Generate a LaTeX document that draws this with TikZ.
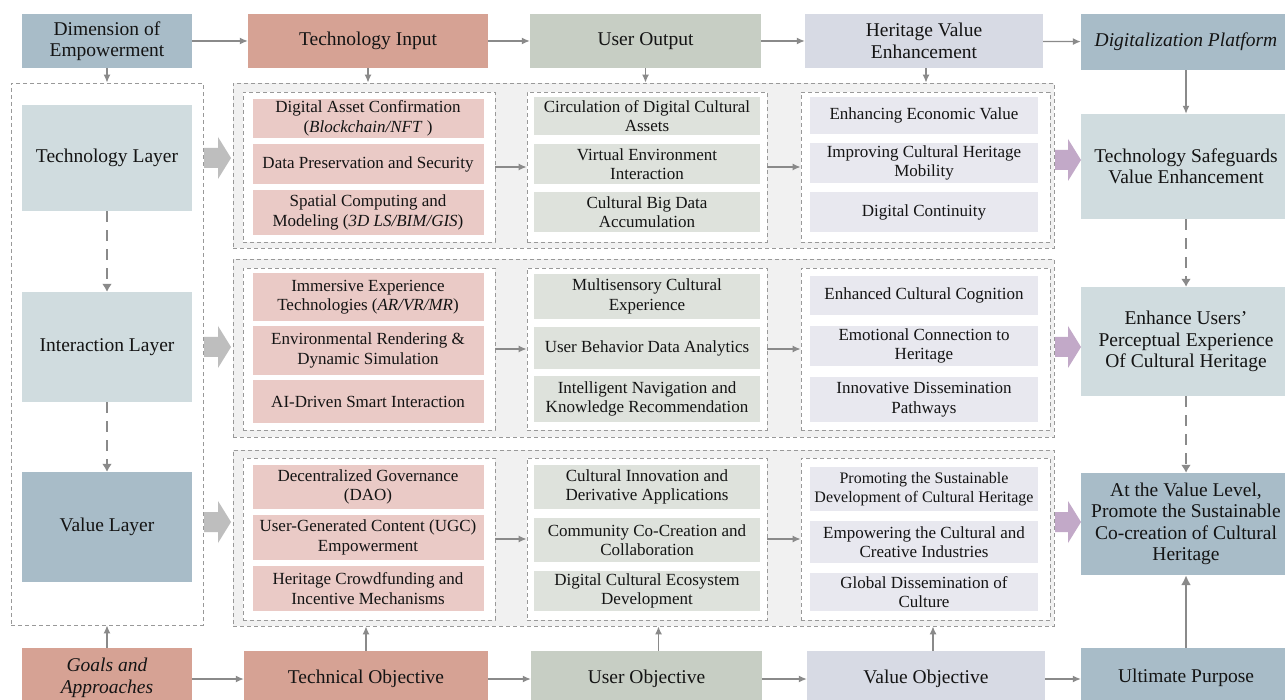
\documentclass[tikz,border=0pt]{standalone}
\usepackage{fontspec}
\setmainfont{Liberation Serif}
\usetikzlibrary{arrows.meta}

\definecolor{cSteel}{HTML}{A8BCC8}
\definecolor{cSalmon}{HTML}{D6A294}
\definecolor{cSage}{HTML}{C7CEC4}
\definecolor{cLilac}{HTML}{D7DAE4}
\definecolor{cMist}{HTML}{D0DCDF}
\definecolor{cPink}{HTML}{EACAC6}
\definecolor{cPale}{HTML}{DEE2DC}
\definecolor{cLav}{HTML}{E8E8EF}
\definecolor{cBand}{HTML}{F1F1F1}
\definecolor{cLine}{HTML}{8A8A8A}
\definecolor{cBlock}{HTML}{BEBEBE}
\definecolor{cMauve}{HTML}{C2A9C8}

\tikzset{
  box/.style={inner sep=1pt, align=center, text=black!92},
  head/.style={box, font=\fontsize{19.5}{21.5}\selectfont},
  item/.style={box, font=\fontsize{17}{19.5}\selectfont},
  pinkbox/.style={item, fill=cPink, minimum width=231pt},
  palebox/.style={item, fill=cPale, minimum width=226pt},
  lavbox/.style={item, fill=cLav, minimum width=228pt},
  frame/.style={draw=black!40, dash pattern=on 4pt off 3pt, line width=0.8pt},
  link/.style={draw=cLine, line width=1.3pt, -{Latex[length=8pt,width=7pt]}},
  dashlink/.style={draw=cLine, line width=2.6pt, dash pattern=on 11pt off 8pt,
    -{Latex[length=8pt,width=10pt]}},
}

\begin{document}
\begin{tikzpicture}[x=1pt, y=-1pt]
\path [use as bounding box, clip] (0,0) rectangle (1285,700);
\fill [white] (0,0) rectangle (1285,700);

% dashed containers
\node [frame, fill=white, minimum width=192pt, minimum height=542pt] (layers) at (107,354) {};
\node [frame, fill=cBand, minimum width=821pt, minimum height=165pt] (row1) at (643.5,165.5) {};
\node [frame, fill=cBand, minimum width=821pt, minimum height=178pt] (row2) at (643.5,348) {};
\node [frame, fill=cBand, minimum width=821pt, minimum height=176pt] (row3) at (643.5,538) {};
\foreach \r/\cy/\h in {1/167/150, 2/349/162, 3/539/162}
  \foreach \c/\cx/\w in {1/369/252, 2/647/240, 3/925.5/249}
    \node [frame, fill=white, minimum width=\w pt, minimum height=\h pt] (r\r c\c) at (\cx,\cy) {};

% header row
\node [head, fill=cSteel, minimum width=170pt, minimum height=54pt] (dim) at (107,41) {Dimension of\\Empowerment};
\node [head, fill=cSalmon, minimum width=240pt, minimum height=54pt] (tin) at (368,41) {Technology Input};
\node [head, fill=cSage, minimum width=231pt, minimum height=54pt] (uout) at (645.5,41) {User Output};
\node [head, fill=cLilac, minimum width=238pt, minimum height=54pt] (hve) at (924,41) {Heritage Value\\Enhancement};
\node [head, fill=cSteel, minimum width=210pt, minimum height=56pt] (dig) at (1186,42) {\textit{Digitalization Platform}};

% layers
\node [head, fill=cMist, minimum width=170pt, minimum height=106pt] (tlay) at (107,158) {Technology Layer};
\node [head, fill=cMist, minimum width=170pt, minimum height=110pt] (ilay) at (107,347) {Interaction Layer};
\node [head, fill=cSteel, minimum width=170pt, minimum height=110pt] (vlay) at (107,527) {Value Layer};

% technology row
\node [pinkbox, minimum height=39pt] (asset) at (368,118.5) {Digital Asset Confirmation\\(\textit{Blockchain/NFT} )};
\node [pinkbox, minimum height=40pt] (secure) at (368,164) {Data Preservation and Security};
\node [pinkbox, minimum height=45pt] (spatial) at (368,212.5) {Spatial Computing and\\Modeling (\textit{3D LS/BIM/GIS})};
\node [palebox, minimum height=38pt] (circ) at (647,116) {Circulation of Digital Cultural\\Assets};
\node [palebox, minimum height=40pt] (virt) at (647,164) {Virtual Environment\\Interaction};
\node [palebox, minimum height=40pt] (bigdata) at (647,212) {Cultural Big Data\\Accumulation};
\node [lavbox, minimum height=37pt] (econ) at (924,115.5) {Enhancing Economic Value};
\node [lavbox, minimum height=40pt] (mobil) at (924,163) {Improving Cultural Heritage\\Mobility};
\node [lavbox, minimum height=40pt] (contin) at (924,212) {Digital Continuity};

% interaction row
\node [pinkbox, minimum height=48pt] (immers) at (368,297) {Immersive Experience\\Technologies (\textit{AR/VR/MR})};
\node [pinkbox, minimum height=49pt] (render) at (368,350.5) {Environmental Rendering \&\\Dynamic Simulation};
\node [pinkbox, minimum height=43pt] (aidrive) at (368,401.5) {AI-Driven Smart Interaction};
\node [palebox, minimum height=45pt] (multi) at (647,296.5) {Multisensory Cultural\\Experience};
\node [palebox, minimum height=42pt] (behav) at (647,348) {User Behavior Data Analytics};
\node [palebox, minimum height=46pt] (navig) at (647,399) {Intelligent Navigation and\\Knowledge Recommendation};
\node [lavbox, minimum height=39pt] (cogn) at (924,295.5) {Enhanced Cultural Cognition};
\node [lavbox, minimum height=40pt] (emot) at (924,346) {Emotional Connection to\\Heritage};
\node [lavbox, minimum height=45pt] (dissem) at (924,399.5) {Innovative Dissemination\\Pathways};

% value row
\node [pinkbox, minimum height=44pt] (dao) at (368,487) {Decentralized Governance\\(DAO)};
\node [pinkbox, minimum height=45pt] (ugc) at (368,537.5) {User-Generated Content (UGC)\\Empowerment};
\node [pinkbox, minimum height=45pt] (crowd) at (368,588.5) {Heritage Crowdfunding and\\Incentive Mechanisms};
\node [palebox, minimum height=44pt] (innov) at (647,487) {Cultural Innovation and\\Derivative Applications};
\node [palebox, minimum height=44pt] (cocreate) at (647,540) {Community Co-Creation and\\Collaboration};
\node [palebox, minimum height=40pt] (ecosys) at (647,591) {Digital Cultural Ecosystem\\Development};
\node [lavbox, minimum height=44pt, font=\fontsize{16}{19}\selectfont] (sustain) at (924,489) {Promoting the Sustainable\\Development of Cultural Heritage};
\node [lavbox, minimum height=42pt] (creative) at (924,542) {Empowering the Cultural and\\Creative Industries};
\node [lavbox, minimum height=38pt] (global) at (924,592) {Global Dissemination of\\Culture};

% right column
\node [head, fill=cMist, minimum width=210pt, minimum height=105pt] (tsafe) at (1186,166.5) {Technology Safeguards\\Value Enhancement};
\node [head, fill=cMist, minimum width=210pt, minimum height=109pt] (euser) at (1186,341.5) {Enhance Users'\\Perceptual Experience\\Of Cultural Heritage};
\node [head, fill=cSteel, minimum width=210pt, minimum height=102pt] (vlevel) at (1186,524) {At the Value Level,\\Promote the Sustainable\\Co-creation of Cultural\\Heritage};

% bottom row
\node [head, fill=cSalmon, minimum width=170pt, minimum height=60pt] (goals) at (107,678) {\textit{Goals and}\\\textit{Approaches}};
\node [head, fill=cSalmon, minimum width=244pt, minimum height=56pt] (tobj) at (366,679) {Technical Objective};
\node [head, fill=cSage, minimum width=231pt, minimum height=56pt] (uobj) at (646.5,679) {User Objective};
\node [head, fill=cLilac, minimum width=238pt, minimum height=56pt] (vobj) at (926,679) {Value Objective};
\node [head, fill=cSteel, minimum width=210pt, minimum height=60pt] (ult) at (1186,678) {Ultimate Purpose};

% block arrows into and out of the rows
\foreach \yc in {158,347,522}
  \fill [cBlock] (204,\yc-10) -- (218,\yc-10) -- (218,\yc-21) -- (231,\yc)
    -- (218,\yc+21) -- (218,\yc+10) -- (204,\yc+10) -- cycle;
\foreach \yc in {160,347,522}
  \fill [cMauve] (1055,\yc-10) -- (1068,\yc-10) -- (1068,\yc-21) -- (1081,\yc)
    -- (1068,\yc+21) -- (1068,\yc+10) -- (1055,\yc+10) -- cycle;

% connectors
\draw [link] (dim) -- (tin);
\draw [link] (tin) -- (uout);
\draw [link] (uout) -- (hve);
\draw [link] (hve) -- (dig);
\draw [link] (dim.south) -- (layers.north);
\draw [link] (tin.south) -- (tin.south |- row1.north);
\draw [link] (uout.south) -- (uout.south |- row1.north);
\draw [link] ([xshift=2pt]hve.south) -- ([xshift=2pt]hve.south |- row1.north);
\draw [link] (dig.south) -- (tsafe.north);
\foreach \r in {1,2,3} {
  \draw [link] (r\r c1) -- (r\r c2);
  \draw [link] (r\r c2) -- (r\r c3);
}
\draw [dashlink] (tlay.south) -- (ilay.north);
\draw [dashlink] (ilay.south) -- (vlay.north);
\draw [dashlink] (tsafe.south) -- (euser.north);
\draw [dashlink] (euser.south) -- (vlevel.north);
\draw [link] (goals.east |- tobj) -- (tobj);
\draw [link] (tobj) -- (uobj);
\draw [link] (uobj) -- (vobj);
\draw [link] (vobj) -- (ult.west |- vobj);
\draw [link] (goals.north) -- (layers.south);
\draw [link] (tobj.north) -- (tobj.north |- row3.south);
\draw [link] ([xshift=12pt]uobj.north) -- ([xshift=12pt]uobj.north |- row3.south);
\draw [link] ([xshift=7pt]vobj.north) -- ([xshift=7pt]vobj.north |- row3.south);
\draw [link, line width=2.5pt, -{Latex[length=10pt,width=10pt]}] (ult.north) -- (vlevel.south);
\end{tikzpicture}
\end{document}
